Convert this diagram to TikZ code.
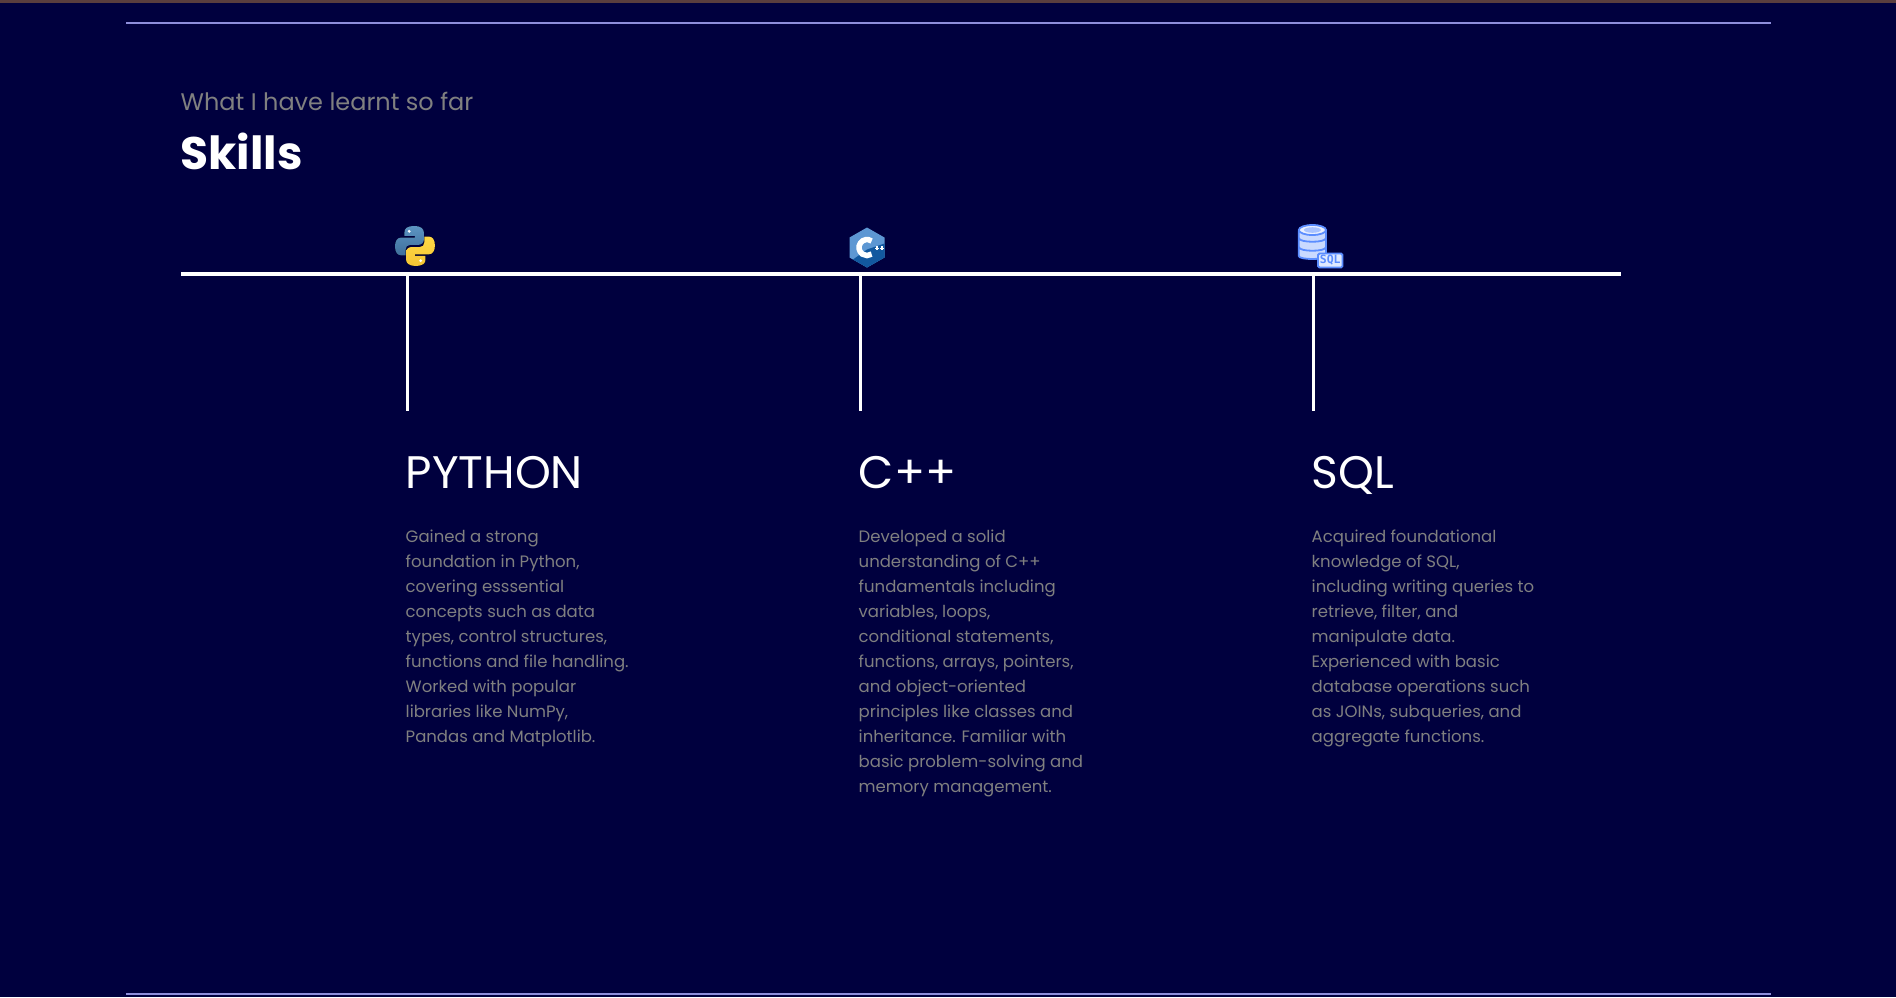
\documentclass[tikz,border=0pt]{standalone}
\usepackage{fontspec}
\setmainfont{Poppins}
\newfontfamily\badgefont{DejaVu Sans Mono}
\definecolor{pagebg}{HTML}{00003E}
\definecolor{topbar}{HTML}{5A3E3E}
\definecolor{rulec}{HTML}{8E8EDC}
\definecolor{muted}{HTML}{808080}
\definecolor{pyblue}{HTML}{5C94C2}
\definecolor{pyblued}{HTML}{3F6F9C}
\definecolor{pyyel}{HTML}{FFD845}
\definecolor{pyyeld}{HTML}{F5C534}
\definecolor{cpplight}{HTML}{5D97D3}
\definecolor{cppdark}{HTML}{12589F}
\definecolor{sqlline}{HTML}{5B8DFF}
\definecolor{sqlfill}{HTML}{CADAFF}
\tikzset{
  x=1pt,y=-1pt,
  frameline/.style={draw=rulec,line width=2pt},
  axisline/.style={draw=white,line width=3.4pt},
  tickline/.style={draw=white,line width=3pt},
  subtitle/.style={anchor=base west,inner sep=0pt,text=muted,font=\fontsize{24}{28}\selectfont},
  heading/.style={anchor=base west,inner sep=0pt,text=white,font=\fontsize{45.6}{50}\selectfont\bfseries},
  skillname/.style={anchor=base west,inner sep=0pt,text=white,font=\fontsize{45.6}{50}\selectfont},
  skilltext/.style={anchor=north west,inner sep=0pt,align=left,text=muted,font=\fontsize{16.5}{25}\selectfont},
}
\begin{document}
\begin{tikzpicture}
\useasboundingbox (0,0) rectangle (1896,997);
\fill[pagebg] (0,0) rectangle (1896,997);
\fill[topbar] (0,0) rectangle (1896,2.5);
\coordinate (topL) at (126,22.5);
\coordinate (topR) at (1771,22.5);
\coordinate (botL) at (126,993.5);
\coordinate (botR) at (1771,993.5);
\draw[frameline] (topL) -- (topR);
\draw[frameline] (botL) -- (botR);
\node[subtitle] (sub) at (180.5,110) {What I have learnt so far};
\node[heading] (head) at (180.5,169) {Skills};
\coordinate (axisL) at (181,274);
\coordinate (axisR) at (1621,274);
\draw[axisline] (axisL) -- (axisR);
\foreach \n/\x in {a/407.5,b/860.5,c/1313.5}{
  \coordinate (\n top) at (\x,274);
  \coordinate (\n bot) at (\x,411);
  \draw[tickline] (\n top) -- (\n bot);
}
\node[skillname] (pyname) at (405.6,488.7) {PYTHON};
\node[skillname] (cppname) at (858.6,488.7) {C++};
\node[skillname] (sqlname) at (1311.6,488.7) {SQL};
\node[skilltext] (pytext) at (405.5,530.1) {Gained a strong\\foundation in Python,\\covering esssential\\concepts such as data\\types, control structures,\\functions and file handling.\\Worked with popular\\libraries like NumPy,\\Pandas and Matplotlib.};
\node[skilltext] (cpptext) at (858.5,530.1) {Developed a solid\\understanding of C++\\fundamentals including\\variables, loops,\\conditional statements,\\functions, arrays, pointers,\\and object-oriented\\principles like classes and\\inheritance. Familiar with\\basic problem-solving and\\memory management.};
\node[skilltext] (sqltext) at (1311.5,530.1) {Acquired foundational\\knowledge of SQL,\\including writing queries to\\retrieve, filter, and\\manipulate data.\\Experienced with basic\\database operations such\\as JOINs, subqueries, and\\aggregate functions.};
% python icon
\begin{scope}[shift={(395,226)},scale=1.05]
  \def\snake{(19,0) .. controls (11,0) and (9,2.5) .. (9,6) -- (9,9.5) -- (19,9.5) -- (19,11) -- (6,11) .. controls (2,11) and (0,14.5) .. (0,19.5) .. controls (0,24.5) and (2,28) .. (6,28) -- (10,28) -- (10,22.5) .. controls (10,19.5) and (12,18) .. (14.5,18) -- (22,18) .. controls (25,18) and (27.5,16) .. (27.5,13) -- (27.5,6) .. controls (27.5,2.5) and (24,0) .. (19,0) -- cycle}
  \fill[top color=pyblue,bottom color=pyblued] \snake;
  \fill[white] (13.5,5) circle (1.5);
  \begin{scope}[rotate around={180:(19,19)}]
    \fill[top color=pyyel,bottom color=pyyeld] \snake;
    \fill[white] (13.5,5) circle (1.5);
  \end{scope}
\end{scope}
% c++ icon
\begin{scope}[shift={(867,247.5)}]
  \fill[cpplight] (0,-20) -- (17.5,-10) -- (17.5,10) -- (0,20) -- (-17.5,10) -- (-17.5,-10) -- cycle;
  \fill[cppdark] (-14,12) -- (0,2) -- (17.5,-4) -- (17.5,10) -- (0,20) -- cycle;
  \draw[white,line width=5.5pt] (4.6,-6.5) arc[start angle=55,end angle=305,radius=8pt];
  \fill[white] (8,0) rectangle (12,1.3);
  \fill[white] (9.4,-1.4) rectangle (10.6,2.7);
  \fill[white] (13,0) rectangle (17,1.3);
  \fill[white] (14.4,-1.4) rectangle (15.6,2.7);
\end{scope}
% sql icon
\begin{scope}[shift={(1298,224)}]
  \draw[sqlline,fill=sqlfill,line width=1.8pt,rounded corners=1pt] (0.8,6) -- (0.8,31) .. controls (0.8,36) and (28,36) .. (28,31) -- (28,6) -- cycle;
  \draw[sqlline,line width=1.8pt] (0.8,14) .. controls (0.8,19) and (28,19) .. (28,14);
  \draw[sqlline,line width=1.8pt] (0.8,23) .. controls (0.8,28) and (28,28) .. (28,23);
  \draw[sqlline,fill=sqlfill!40!white,line width=1.8pt] (14.4,6) ellipse[x radius=13.6,y radius=5];
  \fill[sqlfill!70!sqlline] (14.4,6) ellipse[x radius=8.5,y radius=2.8];
  \draw[sqlline,fill=sqlfill!60!white,line width=1.8pt,rounded corners=1.5pt] (20,29.5) rectangle (44.5,43.5);
  \node[inner sep=0pt,text=sqlline,font=\fontsize{11.5}{12}\badgefont\bfseries] (sqlbadge) at (32.2,36.5) {SQL};
\end{scope}
\end{tikzpicture}
\end{document}
